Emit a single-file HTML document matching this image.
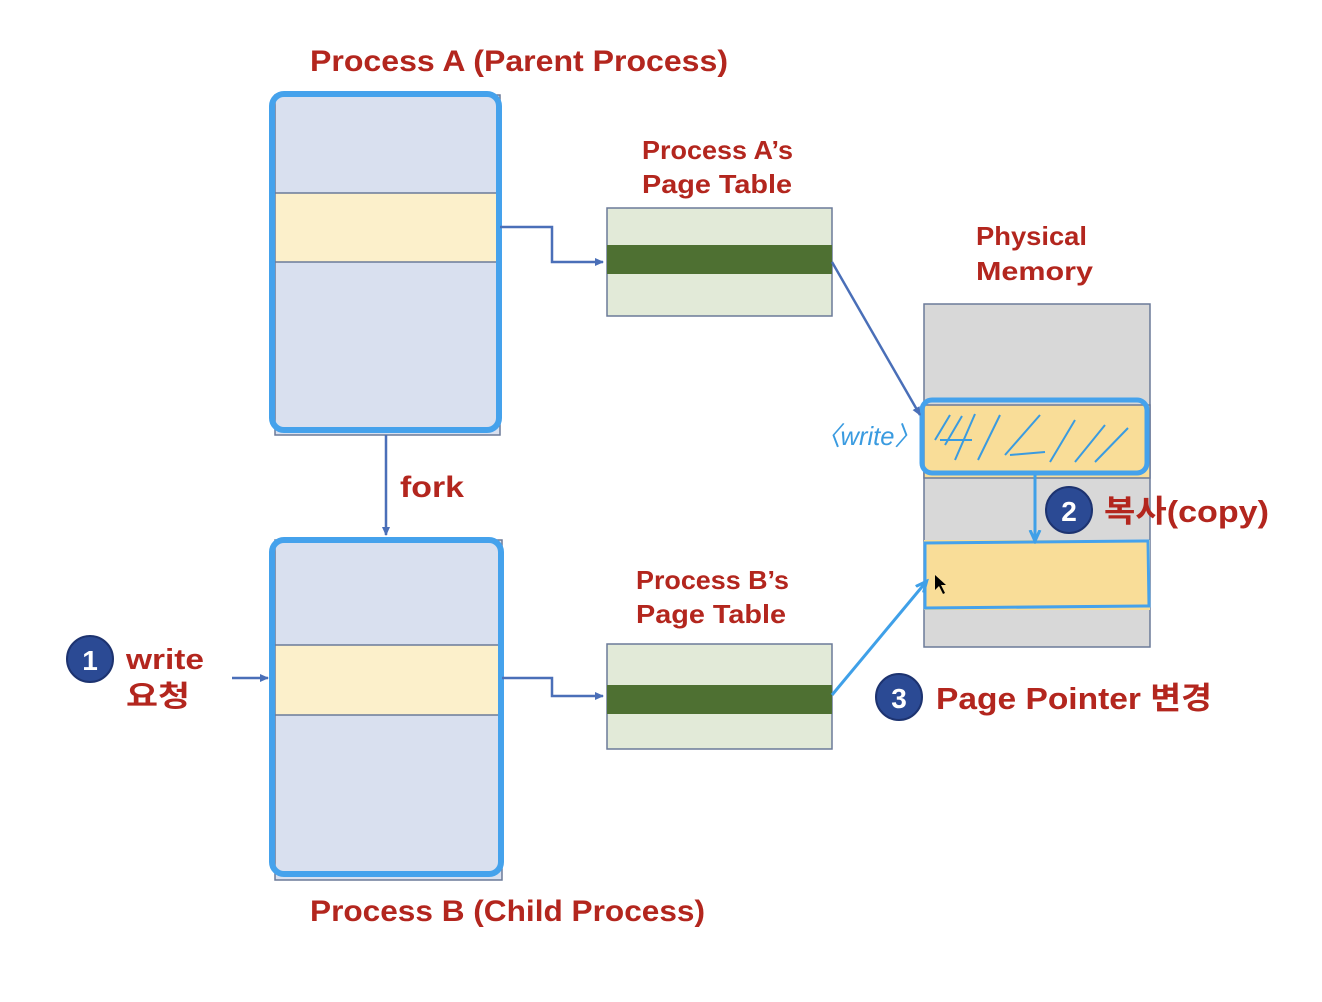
<!DOCTYPE html>
<html><head><meta charset="utf-8"><style>
html,body{margin:0;padding:0;background:#fff;}
svg{display:block;}
text{font-family:"Liberation Sans","Noto Sans CJK KR",sans-serif;font-weight:bold;fill:#b3261e;}
</style></head><body>
<svg width="1322" height="1002" viewBox="0 0 1322 1002" xmlns="http://www.w3.org/2000/svg">
<defs>
<marker id="ah" markerWidth="10" markerHeight="10" refX="8" refY="5" orient="auto" markerUnits="userSpaceOnUse"><path d="M0,1 L9,5 L0,9 z" fill="#4a6fb8"/></marker>
<marker id="ahb" markerWidth="14" markerHeight="14" refX="10" refY="7" orient="auto" markerUnits="userSpaceOnUse"><path d="M0,2 L11,7 L0,12" fill="none" stroke="#3fa0e8" stroke-width="3"/></marker>
</defs>

<rect x="275" y="95" width="225" height="340" fill="#d9e0ef" stroke="#6b7a99" stroke-width="1.5"/>
<rect x="275" y="193" width="225" height="69" fill="#fcf0cb" stroke="#6b7a99" stroke-width="1.5"/>
<rect x="272" y="94" width="227" height="336" rx="12" fill="none" stroke="#45a2ec" stroke-width="6"/>
<rect x="275" y="540" width="227" height="340" fill="#d9e0ef" stroke="#6b7a99" stroke-width="1.5"/>
<rect x="275" y="645" width="227" height="70" fill="#fcf0cb" stroke="#6b7a99" stroke-width="1.5"/>
<rect x="272" y="540" width="229" height="334" rx="12" fill="none" stroke="#45a2ec" stroke-width="6"/>

<rect x="607" y="208" width="225" height="108" fill="#e2ead8" stroke="#6b7a99" stroke-width="1.5"/>
<rect x="607" y="245" width="225" height="29" fill="#4e7032"/>
<rect x="607" y="644" width="225" height="105" fill="#e2ead8" stroke="#6b7a99" stroke-width="1.5"/>
<rect x="607" y="685" width="225" height="29" fill="#4e7032"/>

<rect x="924" y="304" width="226" height="343" fill="#d8d8d8" stroke="#6b7a99" stroke-width="1.5"/>
<rect x="924" y="405" width="226" height="73" fill="#f9dd98" stroke="#6b7a99" stroke-width="1.5"/>
<rect x="924" y="540" width="226" height="70" fill="#f9dd98"/>
<rect x="922" y="400" width="225" height="73" rx="10" fill="none" stroke="#45a2ec" stroke-width="5"/>
<path d="M925,543 L1148,541 L1149,606 L925,608 Z" fill="none" stroke="#45a2ec" stroke-width="3"/>
<g stroke="#3a9be0" stroke-width="2" fill="none">
<path d="M935,440 L950,415 M945,445 L962,416 M955,460 L975,414 M940,440 L972,440 M978,460 L1000,415 M1005,455 L1040,415 M1010,455 L1045,452 M1050,462 L1075,420 M1075,462 L1105,425 M1095,462 L1128,428"/>
</g>
<text x="815" y="445" font-size="26" textLength="105" lengthAdjust="spacingAndGlyphs" style="fill:#3a9be0;font-weight:normal;font-style:italic">〈write〉</text>

<g stroke="#4a6fb8" stroke-width="2.5" fill="none">
<path d="M500,227 L552,227 L552,262 L603,262" marker-end="url(#ah)"/>
<path d="M502,678 L552,678 L552,696 L603,696" marker-end="url(#ah)"/>
<path d="M386,435 L386,535" marker-end="url(#ah)"/>
<path d="M232,678 L268,678" marker-end="url(#ah)"/>
<path d="M832,262 L920,415" marker-end="url(#ah)"/>
</g>
<path d="M1035,475 L1035,540" stroke="#3fa0e8" stroke-width="3" fill="none" marker-end="url(#ahb)"/>
<path d="M832,695 L926,582" stroke="#3fa0e8" stroke-width="3" fill="none" marker-end="url(#ahb)"/>
<path d="M935,575 L935,590 L939,586 L943,594 L945,593 L941,585 L946,585 Z" fill="#000"/>

<text x="310" y="71" font-size="30" textLength="418" lengthAdjust="spacingAndGlyphs">Process  A  (Parent Process)</text>
<text x="310" y="921" font-size="30" textLength="395" lengthAdjust="spacingAndGlyphs">Process  B  (Child Process)</text>
<text x="642" y="159" font-size="26" textLength="151" lengthAdjust="spacingAndGlyphs">Process  A’s</text>
<text x="642" y="193" font-size="26" textLength="150" lengthAdjust="spacingAndGlyphs">Page Table</text>
<text x="636" y="589" font-size="26" textLength="153" lengthAdjust="spacingAndGlyphs">Process  B’s</text>
<text x="636" y="623" font-size="26" textLength="150" lengthAdjust="spacingAndGlyphs">Page Table</text>
<text x="976" y="245" font-size="26" textLength="111" lengthAdjust="spacingAndGlyphs">Physical</text>
<text x="976" y="280" font-size="26" textLength="117" lengthAdjust="spacingAndGlyphs">Memory</text>
<text x="400" y="497" font-size="30" textLength="64" lengthAdjust="spacingAndGlyphs">fork</text>
<text x="126" y="669" font-size="29" textLength="78" lengthAdjust="spacingAndGlyphs">write</text>
<text x="126" y="706" font-size="29" textLength="64" lengthAdjust="spacingAndGlyphs">요청</text>
<text x="1104" y="522" font-size="31" textLength="165" lengthAdjust="spacingAndGlyphs">복사(copy)</text>
<text x="936" y="709" font-size="31" textLength="276" lengthAdjust="spacingAndGlyphs">Page Pointer  변경</text>

<g>
<circle cx="90" cy="659" r="23" fill="#2b4a94" stroke="#1d3370" stroke-width="2"/>
<text x="90" y="670" font-size="28" text-anchor="middle" style="fill:#fff">1</text>
<circle cx="1069" cy="510" r="23" fill="#2b4a94" stroke="#1d3370" stroke-width="2"/>
<text x="1069" y="521" font-size="28" text-anchor="middle" style="fill:#fff">2</text>
<circle cx="899" cy="697" r="23" fill="#2b4a94" stroke="#1d3370" stroke-width="2"/>
<text x="899" y="708" font-size="28" text-anchor="middle" style="fill:#fff">3</text>
</g>
</svg>
</body></html>
